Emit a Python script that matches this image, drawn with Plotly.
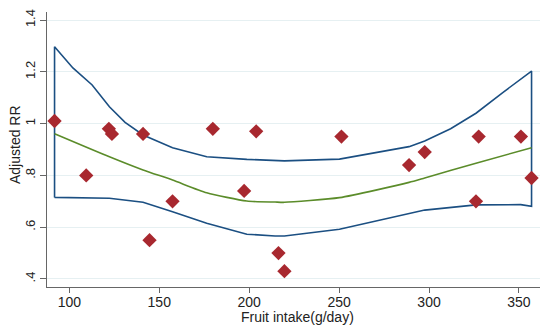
import plotly.graph_objects as go

# Scatter points (study estimates)
pt_x = [91.8, 109.4, 122.0, 123.7, 141.0, 144.6, 157.4, 179.8, 197.2, 203.9,
        216.3, 219.6, 251.3, 288.9, 297.6, 326.1, 327.6, 351.1, 357.0]
pt_y = [1.01, 0.80, 0.98, 0.96, 0.96, 0.55, 0.70, 0.98, 0.74, 0.97,
        0.50, 0.43, 0.95, 0.84, 0.89, 0.70, 0.95, 0.95, 0.79]

# Fitted curve
fit_x = [91.8, 122.3, 141.0, 157.4, 176.4, 198.7, 214.4, 219.6, 250.2, 288.9, 297.6, 326.1, 357.0]
fit_y = [0.961, 0.872, 0.821, 0.782, 0.733, 0.701, 0.697, 0.696, 0.714, 0.773, 0.790, 0.847, 0.907]

# Confidence band
up_x = [91.8, 102.0, 112.7, 122.3, 131.0, 141.0, 157.4, 176.4, 198.7, 214.4, 219.6, 250.2, 288.9, 297.6, 312.0, 326.1, 341.0, 357.0]
up_y = [1.297, 1.215, 1.149, 1.065, 1.005, 0.956, 0.907, 0.872, 0.862, 0.857, 0.856, 0.863, 0.911, 0.933, 0.980, 1.040, 1.120, 1.203]
lo_x = [91.8, 122.3, 141.0, 157.4, 176.4, 198.7, 214.4, 219.6, 250.2, 288.9, 297.6, 326.1, 351.0, 357.0]
lo_y = [0.715, 0.712, 0.696, 0.660, 0.615, 0.573, 0.566, 0.566, 0.592, 0.654, 0.666, 0.686, 0.687, 0.681]

x_ticks = [100, 150, 200, 250, 300, 350]
y_ticks = [0.4, 0.6, 0.8, 1.0, 1.2, 1.4]
y_tick_labels = [".4", ".6", ".8", "1", "1.2", "1.4"]
x_title = "Fruit intake(g/day)"
y_title = "Adjusted RR"

band_x = lo_x + up_x[::-1] + [lo_x[0]]
band_y = lo_y + up_y[::-1] + [lo_y[0]]

fig = go.Figure()
fig.add_trace(go.Scatter(x=band_x, y=band_y, mode="lines",
                         line=dict(color="#1b4f82", width=1.6),
                         hoverinfo="skip", showlegend=False))
fig.add_trace(go.Scatter(x=fit_x, y=fit_y, mode="lines",
                         line=dict(color="#5b8c2a", width=1.6, shape="spline", smoothing=0.6),
                         showlegend=False))
fig.add_trace(go.Scatter(x=pt_x, y=pt_y, mode="markers",
                         marker=dict(symbol="diamond", size=11, color="#a8282f"),
                         showlegend=False))

font = "Liberation Sans, Arial, sans-serif"
fig.update_layout(
    width=550, height=333,
    margin=dict(l=47, r=10, t=12, b=46),
    plot_bgcolor="white", paper_bgcolor="white",
    font=dict(family=font, size=14, color="#222"),
    xaxis=dict(range=[87.6, 361.7], tickvals=x_ticks, showgrid=False, zeroline=False,
               showline=True, linecolor="#666", linewidth=1.2, automargin=False,
               ticks="outside", ticklen=5, tickcolor="#666", ticklabelstandoff=-3,
               tickfont=dict(size=14)),
    yaxis=dict(range=[0.369, 1.431], tickvals=y_ticks, ticktext=y_tick_labels,
               tickangle=-90, showgrid=True, gridcolor="#e6f0f2", gridwidth=1, zeroline=False,
               showline=True, linecolor="#666", linewidth=1.2, automargin=False,
               ticks="outside", ticklen=6, tickcolor="#666", ticklabelstandoff=0,
               tickfont=dict(size=13)),
    annotations=[
        dict(text=x_title, xref="paper", yref="paper", x=(297 - 47) / 493, y=-(317 - 287) / 275,
             xanchor="center", yanchor="middle", showarrow=False, font=dict(size=14)),
        dict(text=y_title, xref="paper", yref="paper", x=-(47 - 15) / 493, y=(287 - 145) / 275,
             xanchor="center", yanchor="middle", textangle=-90, showarrow=False, font=dict(size=14)),
    ],
)
fig.write_html("out.html", config={"displayModeBar": False},
               post_script="document.body.style.margin='0';")
